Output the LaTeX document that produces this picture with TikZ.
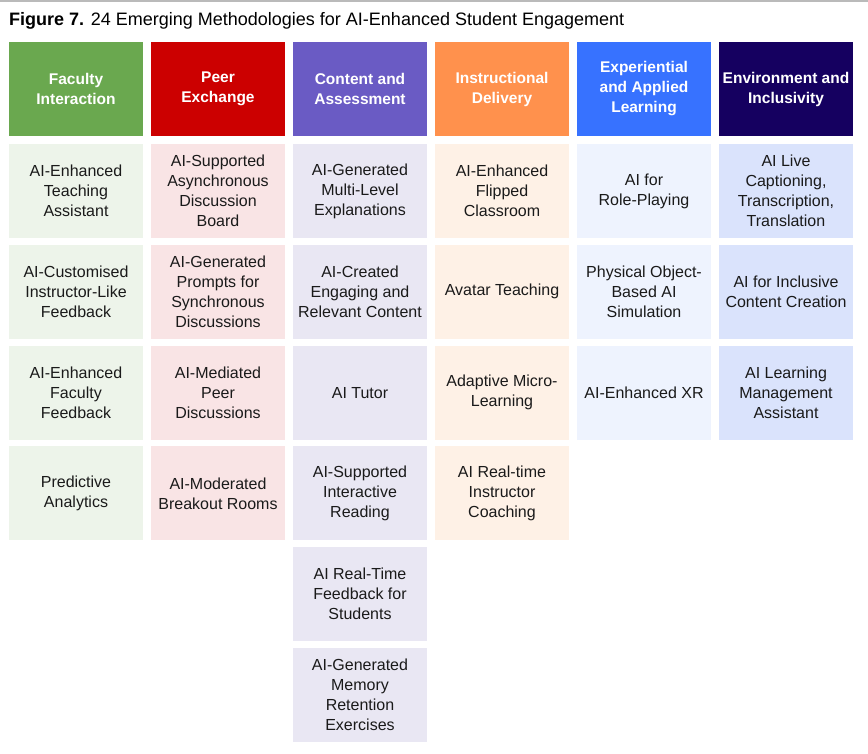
\documentclass[tikz,border=0pt]{standalone}
\usepackage{fontspec}
\setmainfont{Liberation Sans}
\definecolor{hgreen}{HTML}{6AA84F}
\definecolor{hred}{HTML}{CC0000}
\definecolor{hpurple}{HTML}{6A5BC4}
\definecolor{horange}{HTML}{FF914D}
\definecolor{hblue}{HTML}{3772FF}
\definecolor{hnavy}{HTML}{150060}
\definecolor{lgreen}{HTML}{EDF4EA}
\definecolor{lred}{HTML}{F9E4E5}
\definecolor{lpurple}{HTML}{E9E7F3}
\definecolor{lorange}{HTML}{FEF1E6}
\definecolor{lblue}{HTML}{EEF3FE}
\definecolor{lnavy}{HTML}{DAE3FC}
\definecolor{txt}{HTML}{1A1A1A}
\tikzset{
  cellbox/.style={minimum width=134pt,minimum height=94pt,inner sep=0pt,align=center,text=txt,font=\fontsize{16}{20}\selectfont},
  headbox/.style={cellbox,text=white,font=\bfseries\fontsize{15.5}{20}\selectfont},
}
\begin{document}
\begin{tikzpicture}[x=1pt,y=-1pt]
\useasboundingbox (0,0) rectangle (868,753);
\fill[white] (0,0) rectangle (868,753);
\draw[line width=2pt,color=black!27] (0,0.8) -- (868,0.8);
\node[anchor=base west,inner sep=0pt,font=\fontsize{18}{20}\selectfont,text=black] (title) at (9,25) {\textbf{Figure 7.} 24 Emerging Methodologies for AI-Enhanced Student Engagement};
% headers
\node[headbox,fill=hgreen] (h1) at (76,89) {Faculty\\Interaction};
\node[headbox,fill=hred] (h2) at (218,89) {Peer\\Exchange};
\node[headbox,fill=hpurple] (h3) at (360,89) {Content and\\Assessment};
\node[headbox,fill=horange] (h4) at (502,89) {Instructional\\Delivery};
\node[headbox,fill=hblue] (h5) at (644,89) {Experiential\\and Applied\\Learning};
\node[headbox,fill=hnavy] (h6) at (786,89) {Environment and\\Inclusivity};
% column 1
\node[cellbox,fill=lgreen] (c11) at (76,191) {AI-Enhanced\\Teaching\\Assistant};
\node[cellbox,fill=lgreen] (c12) at (76,291.8) {AI-Customised\\Instructor-Like\\Feedback};
\node[cellbox,fill=lgreen] (c13) at (76,392.6) {AI-Enhanced\\Faculty\\Feedback};
\node[cellbox,fill=lgreen] (c14) at (76,493.4) {Predictive\\Analytics};
% column 2
\node[cellbox,fill=lred] (c21) at (218,191) {AI-Supported\\Asynchronous\\Discussion\\Board};
\node[cellbox,fill=lred] (c22) at (218,291.8) {AI-Generated\\Prompts for\\Synchronous\\Discussions};
\node[cellbox,fill=lred] (c23) at (218,392.6) {AI-Mediated\\Peer\\Discussions};
\node[cellbox,fill=lred] (c24) at (218,493.4) {AI-Moderated\\Breakout Rooms};
% column 3
\node[cellbox,fill=lpurple] (c31) at (360,191) {AI-Generated\\Multi-Level\\Explanations};
\node[cellbox,fill=lpurple] (c32) at (360,291.8) {AI-Created\\Engaging and\\Relevant Content};
\node[cellbox,fill=lpurple] (c33) at (360,392.6) {AI Tutor};
\node[cellbox,fill=lpurple] (c34) at (360,493.4) {AI-Supported\\Interactive\\Reading};
\node[cellbox,fill=lpurple] (c35) at (360,594.2) {AI Real-Time\\Feedback for\\Students};
\node[cellbox,fill=lpurple] (c36) at (360,695) {AI-Generated\\Memory\\Retention\\Exercises};
% column 4
\node[cellbox,fill=lorange] (c41) at (502,191) {AI-Enhanced\\Flipped\\Classroom};
\node[cellbox,fill=lorange] (c42) at (502,291.8) {Avatar Teaching};
\node[cellbox,fill=lorange] (c43) at (502,392.6) {Adaptive Micro-\\Learning};
\node[cellbox,fill=lorange] (c44) at (502,493.4) {AI Real-time\\Instructor\\Coaching};
% column 5
\node[cellbox,fill=lblue] (c51) at (644,191) {AI for\\Role-Playing};
\node[cellbox,fill=lblue] (c52) at (644,291.8) {Physical Object-\\Based AI\\Simulation};
\node[cellbox,fill=lblue] (c53) at (644,392.6) {AI-Enhanced XR};
% column 6
\node[cellbox,fill=lnavy] (c61) at (786,191) {AI Live\\Captioning,\\Transcription,\\Translation};
\node[cellbox,fill=lnavy] (c62) at (786,291.8) {AI for Inclusive\\Content Creation};
\node[cellbox,fill=lnavy] (c63) at (786,392.6) {AI Learning\\Management\\Assistant};
\end{tikzpicture}
\end{document}
